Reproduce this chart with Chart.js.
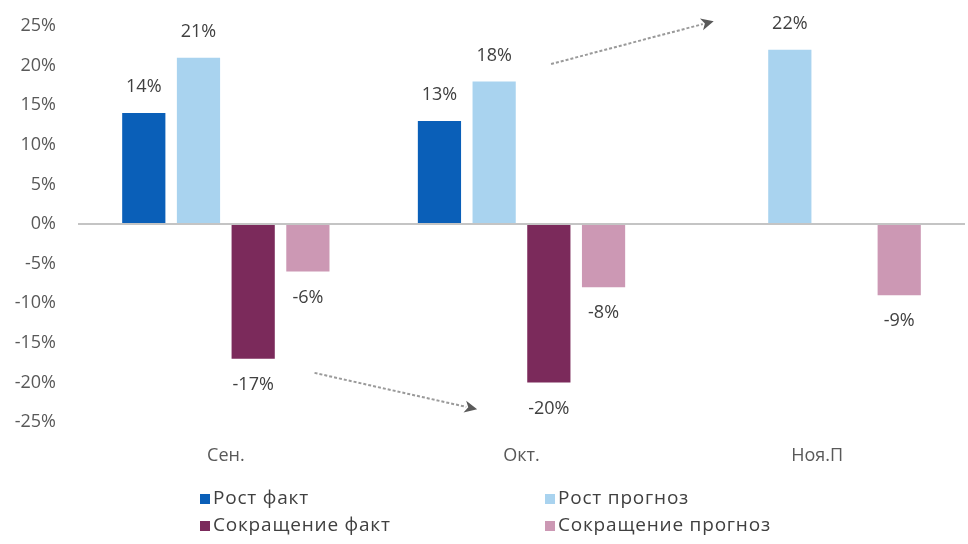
<!DOCTYPE html>
<html>
<head>
<meta charset="utf-8">
<script src="https://cdn.jsdelivr.net/npm/chart.js@4"></script>
<style>
  html, body { margin: 0; padding: 0; background: #fff; }
  #wrap { width: 968px; height: 544px; }
</style>
</head>
<body>
<div id="wrap"><canvas id="chart" width="968" height="544"></canvas></div>
<script>
const months = ['Сен.', 'Окт.', 'Ноя.П'];
const seriesNames = ['Рост факт', 'Рост прогноз', 'Сокращение факт', 'Сокращение прогноз'];
const growthFact = [14, 13, null];
const growthForecast = [21, 18, 22];
const cutFact = [-17, -20, null];
const cutForecast = [-6, -8, -9];
const seriesColors = ['#0a5fb8', '#a9d3ef', '#7b2a5b', '#cc98b4'];
const yTicks = [-25, -20, -15, -10, -5, 0, 5, 10, 15, 20, 25];
// arrows as [category position, value]
const arrowFrom = [[0.30, -18.8], [1.10, 20.2]];
const arrowTo = [[0.85, -23.4], [1.65, 25.6]];

const FONT = "'Open Sans', 'Noto Sans', sans-serif";

const valueLabels = {
  id: 'valueLabels',
  afterDatasetsDraw(chart) {
    const ctx = chart.ctx;
    ctx.save();
    ctx.font = '18px ' + FONT;
    ctx.fillStyle = '#404040';
    ctx.textAlign = 'center';
    ctx.textBaseline = 'middle';
    chart.data.datasets.forEach((ds, i) => {
      const meta = chart.getDatasetMeta(i);
      meta.data.forEach((bar, j) => {
        const v = ds.data[j];
        if (v === null) return;
        const y = v >= 0 ? bar.y - 26 : bar.y + 26;
        ctx.fillText(v + '%', bar.x, y);
      });
    });
    ctx.restore();
  }
};

const arrows = {
  id: 'arrows',
  afterDraw(chart) {
    const ctx = chart.ctx;
    const xs = chart.scales.x, ys = chart.scales.y;
    const px = p => xs.getPixelForValue(p[0]);
    const py = p => ys.getPixelForValue(p[1]);
    ctx.save();
    for (let i = 0; i < arrowFrom.length; i++) {
      const x1 = px(arrowFrom[i]), y1 = py(arrowFrom[i]);
      const x2 = px(arrowTo[i]), y2 = py(arrowTo[i]);
      const a = Math.atan2(y2 - y1, x2 - x1);
      const len = 14;
      ctx.strokeStyle = '#9a9a9a';
      ctx.lineWidth = 2;
      ctx.setLineDash([3, 2]);
      ctx.beginPath();
      ctx.moveTo(x1, y1);
      ctx.lineTo(x2 - Math.cos(a) * len * 0.8, y2 - Math.sin(a) * len * 0.8);
      ctx.stroke();
      ctx.setLineDash([]);
      ctx.fillStyle = '#5a5a5a';
      ctx.beginPath();
      ctx.moveTo(x2, y2);
      ctx.lineTo(x2 - Math.cos(a - 0.45) * len, y2 - Math.sin(a - 0.45) * len);
      ctx.lineTo(x2 - Math.cos(a) * len * 0.65, y2 - Math.sin(a) * len * 0.65);
      ctx.lineTo(x2 - Math.cos(a + 0.45) * len, y2 - Math.sin(a + 0.45) * len);
      ctx.closePath();
      ctx.fill();
    }
    ctx.restore();
  }
};

const gridLegend = {
  id: 'gridLegend',
  afterDraw(chart) {
    const ctx = chart.ctx;
    const cols = [200, 545];
    const rows = [499, 526];
    ctx.save();
    ctx.font = '19px ' + FONT;
    ctx.letterSpacing = '0.8px';
    ctx.textBaseline = 'middle';
    ctx.textAlign = 'left';
    chart.data.datasets.forEach((ds, i) => {
      const x = cols[i % 2], y = rows[Math.floor(i / 2)];
      ctx.fillStyle = ds.backgroundColor;
      ctx.fillRect(x, y - 5, 10, 10);
      ctx.fillStyle = '#404040';
      ctx.fillText(ds.label, x + 13, y);
    });
    ctx.restore();
  }
};

const allSeries = [growthFact, growthForecast, cutFact, cutForecast];

new Chart(document.getElementById('chart'), {
  type: 'bar',
  data: {
    labels: months,
    datasets: allSeries.map((d, i) => ({
      label: seriesNames[i],
      data: d,
      backgroundColor: seriesColors[i],
      borderWidth: 0,
      categoryPercentage: 0.74,
      barPercentage: 0.79
    }))
  },
  options: {
    responsive: false,
    animation: false,
    layout: { padding: { top: 26, right: 3, bottom: 72, left: 0 } },
    plugins: {
      legend: { display: false },
      tooltip: { enabled: false }
    },
    scales: {
      x: {
        grid: { display: false },
        border: { display: false },
        ticks: { color: '#595959', font: { family: FONT, size: 18 }, padding: 15 },
        afterFit(scale) { scale.height = 50; }
      },
      y: {
        min: -25,
        max: 25,
        afterBuildTicks(scale) { scale.ticks = yTicks.map(v => ({ value: v })); },
        afterFit(scale) {
          scale.width = 78;
          scale.paddingTop = 0;
          scale.paddingBottom = 0;
        },
        border: { display: false },
        grid: {
          drawTicks: false,
          color: c => (c.tick && c.tick.value === 0 ? '#c4c4c4' : 'rgba(0,0,0,0)'),
          lineWidth: 2
        },
        ticks: {
          color: '#595959',
          font: { family: FONT, size: 18 },
          padding: 22,
          callback: v => v + '%'
        }
      }
    }
  },
  plugins: [valueLabels, arrows, gridLegend]
});
</script>
</body>
</html>
